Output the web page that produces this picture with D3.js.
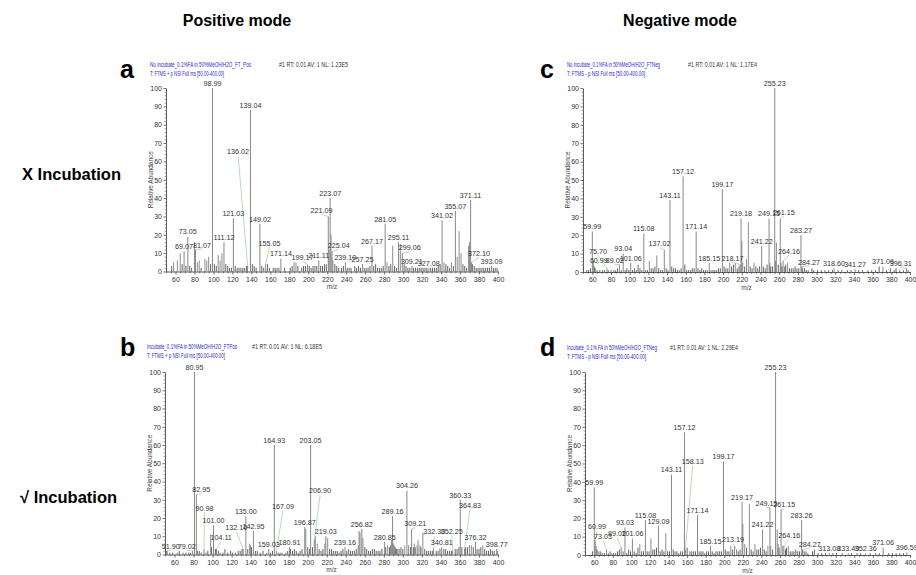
<!DOCTYPE html>
<html><head><meta charset="utf-8">
<script src="https://cdn.jsdelivr.net/npm/d3@7"></script>
<style>body{margin:0;background:#fff}</style>
</head><body>
<svg id="c" width="916" height="575"></svg>
<script>
// ---------------- DATA ----------------
const mzTicks = [60,80,100,120,140,160,180,200,220,240,260,280,300,320,340,360,380,400];
const abTicks = [0,10,20,30,40,50,60,70,80,90,100];
const columnTitles = ["Positive mode", "Negative mode"];
const rowTitles = ["X Incubation", "\u221A Incubation"];
const panelLetters = ["a", "b", "c", "d"];

const headerA = ["No incubate_0.1%FA in 50%MeOH/H2O_FT_Pos", "T: FTMS + p NSI Full ms [50.00-400.00]", "#1 RT: 0.01 AV: 1 NL: 1.23E5"];
const headerB = ["Incubate_0.1%FA in 50%MeOH/H2O_FTPos", "T: FTMS + p NSI Full ms [50.00-400.00]", "#1 RT: 0.01 AV: 1 NL: 6.18E5"];
const headerC = ["No incubate_0.1%FA in 50%MeOH/H2O_FTNeg", "T: FTMS - p NSI Full ms [50.00-400.00]", "#1 RT: 0.01 AV: 1 NL: 1.17E4"];
const headerD = ["Incubate_0.1% FA in 50%MeOH/H2O_FTNeg", "T: FTMS - p NSI Full ms [50.00-400.00]", "#1 RT: 0.01 AV: 1 NL: 2.29E4"];

// labelled peaks: [m/z, relative abundance, label m/z (if displaced), label level (if displaced)]
const labelsA = [
 [69.07,11,null,null],[73.05,19,null,null],[81.07,12,88,13],[98.99,100,null,null],
 [111.12,16,null,null],[121.03,29,null,null],[136.02,3,126,64],[139.04,88,null,null],
 [149.02,26,null,null],[155.05,4,159,14],[171.14,7,null,null],[199.17,4,194,6.5],
 [211.11,6,null,null],[221.09,30,214,32],[223.07,40,null,null],[225.04,11,232,13],
 [239.10,5,null,null],[257.25,4,null,null],[267.17,14,null,null],[281.05,26,null,null],
 [295.11,16,null,null],[299.06,10,307,11.5],[309.21,3,null,null],[327.08,2,null,null],
 [341.02,28,null,null],[355.07,33,null,null],[371.11,39,null,null],[372.10,5,380,8.5],
 [393.09,3,null,null]
];
const peaksA = [
 [56,3],[58,5],[62,6],[65,10],[67,4],[71,3],[75,3],[77,2],[80,16],[83,5],[85,6],[87,2],[91,7],[93,6],[95,8],[97,4],
 [101,4],[103,3],[105,9],[107,6],[109,10],[113,4],[115,3],[117,2],[119,2],[123,3],[125,2],[127,2],[129,2],[131,2],
 [133,2],[135,3],[141,4],[143,3],[145,2],[151,3],[153,2],[157,4],[159,2],[163,2],[165,2],[167,2],[169,2],[175,2],
 [181,2],[183,3],[185,5],[187,5],[189,3],[193,2],[195,3],[197,3],[201,3],[203,2],[205,3],[207,3],[209,3],[213,3],
 [215,3],[217,4],[219,4],[222,12],[224,20],[226,6],[228,4],[230,3],[232,2],[235,2],[237,3],[241,2],[243,2],[245,2],
 [249,3],[251,2],[253,3],[255,2],[259,2],[261,2],[263,2],[265,3],[269,3],[271,4],[273,2],[275,2],[277,2],[279,3],
 [283,5],[285,3],[287,4],[289,14],[291,3],[293,2],[297,15],[301,4],[303,3],[305,2],[307,2],[311,2],[313,2],[315,2],
 [317,2],[319,2],[321,2],[323,2],[325,2],[329,2],[331,2],[333,2],[335,2],[337,3],[339,4],[343,5],[345,4],[347,3],
 [349,2],[351,5],[353,3],[357,8],[359,22],[361,10],[363,4],[365,3],[367,2],[369,14],[370,16],[373,4],[375,3],
 [377,2],[379,2],[381,2],[383,2],[385,2],[387,2],[389,2],[391,2],[395,2],[397,2],[399,2]
];

const labelsB = [
 [51.90,2,56,3],[79.02,2,73,3],[80.95,100,null,null],[82.95,33,88,34],[90.98,3,91.5,24],
 [101.00,16,null,null],[104.11,3,109,8],[132.10,3,125,13.5],[135.00,21,null,null],[142.95,13,null,null],
 [159.03,3,null,null],[164.93,60,null,null],[167.09,2,174,25],[180.91,4,null,null],[196.87,15,null,null],
 [203.05,60,null,null],[206.90,8,213,33.5],[219.03,10,null,null],[239.16,4,null,null],[256.82,14,null,null],
 [280.85,7,null,null],[289.16,21,null,null],[304.26,35,null,null],[309.21,14,313,15.5],[332.30,3,333,11],
 [340.81,4,null,null],[352.25,2,351.5,11],[360.33,30,null,null],[364.83,3,370.5,25.5],[376.32,7,null,null],
 [398.77,3,null,null]
];
const peaksB = [
 [52,2],[55,1],[58,1],[63,1],[65,2],[69,1],[72,1],[75,1],[77,1],[84,2],[86,2],[88,1],[93,1],[95,2],[98,11],[99,4],
 [103,3],[106,2],[108,1],[111,1],[113,3],[116,1],[119,2],[121,1],[124,1],[127,2],[129,2],[131,3],[137,3],[139,6],
 [140,5],[141,4],[145,2],[147,2],[150,1],[153,2],[157,1],[161,1],[163,2],[169,1],[171,1],[173,1],[177,1],[179,2],
 [182,3],[184,2],[186,3],[188,2],[190,1],[192,2],[194,3],[198,14],[200,4],[202,3],[205,4],[208,10],[210,6],[212,3],
 [214,2],[216,3],[218,6],[221,9],[223,3],[225,3],[227,2],[229,2],[231,2],[233,1],[235,2],[237,3],[241,2],[243,3],
 [245,2],[247,2],[249,2],[251,3],[253,5],[254,13],[255,12],[258,9],[260,4],[262,3],[264,2],[266,2],[268,3],[270,3],
 [272,2],[274,2],[276,2],[278,3],[282,4],[284,5],[286,4],[287,5],[288,8],[290,6],[291,5],[292,4],[293,3],[294,3],
 [296,3],[298,4],[300,3],[302,5],[306,5],[308,4],[311,4],[312,6],[313,4],[315,5],[316,8],[318,5],[319,4],[321,12],
 [323,3],[325,2],[327,2],[329,2],[331,2],[335,2],[337,2],[339,3],[343,3],[345,3],[347,2],[349,2],[351,2],[355,3],
 [357,3],[359,4],[362,4],[366,4],[368,4],[370,5],[372,5],[374,4],[378,3],[380,3],[382,4],[384,5],[386,3],[388,2],
 [390,2],[392,3],[394,2],[396,2],[399,2]
];

const labelsC = [
 [59.99,22,null,null],[60.99,6,67,5],[75.70,2,66,10],[89.02,4,84,5],[93.04,10,null,null],
 [101.06,5,null,null],[115.08,21,null,null],[137.02,12,132,14],[143.11,39,null,null],[157.12,52,null,null],
 [171.14,22,null,null],[185.15,5,null,null],[199.17,45,null,null],[218.17,4,210,6],[219.18,29,null,null],
 [241.22,14,null,null],[249.15,29,null,null],[255.23,100,null,null],[261.15,29,265,31],[264.16,6,270.5,10],
 [283.27,20,null,null],[284.27,3,292,4],[318.60,2,null,null],[341.27,1.5,null,null],[371.06,3,null,null],
 [396.31,2,390,3]
];
const peaksC = [
 [54,1],[56,1],[58,2],[62,3],[63,2],[65,1],[68,1],[71,1],[73,1],[77,1],[80,1],[83,1],[85,1],[87,2],[91,1],[95,1],
 [97,2],[99,1],[103,1],[105,2],[107,1],[109,4],[111,2],[113,1],[117,1],[119,1],[121,6],[123,2],[125,2],[127,3],
 [129,9],[131,2],[133,1],[135,1],[139,2],[141,1],[145,3],[147,2],[149,2],[151,1],[153,1],[155,2],[159,4],[161,1],
 [163,1],[165,1],[167,2],[169,2],[173,2],[175,1],[177,2],[179,1],[181,1],[183,1],[187,1],[189,1],[191,1],[193,1],
 [195,2],[197,2],[201,3],[203,2],[205,2],[207,5],[209,3],[211,4],[213,5],[215,2],[217,3],[220,17],[221,5],[223,3],
 [225,7],[227,27],[229,3],[231,2],[233,5],[235,3],[237,2],[239,3],[243,3],[245,2],[247,4],[250,5],[251,3],[253,3],
 [256,6],[257,16],[259,4],[262,5],[263,3],[266,3],[267,4],[269,5],[271,2],[273,2],[275,2],[277,3],[279,2],[281,2],
 [285,2],[287,2],[289,1],[291,1],[295,2],[297,1],[301,1],[305,1],[309,1],[313,1],[317,1],[323,1],[327,1],[333,1],
 [337,1],[345,1],[349,1],[355,1],[359,1],[363,1],[367,3],[375,1],[379,2],[383,1],[385,2],[389,1],[393,1],[398,1]
];

const labelsD = [
 [59.99,37,null,null],[60.99,8,63,14],[73.03,3,69.5,9],[89.02,4,84.5,10.5],[93.03,15,null,null],
 [101.06,9,null,null],[115.08,19,null,null],[129.09,16,null,null],[143.11,44,null,null],[157.12,67,null,null],
 [158.13,3,166,50],[171.14,22,null,null],[185.15,5,null,null],[199.17,51,null,null],[213.19,3,209.5,7],
 [219.17,29,null,null],[241.22,14,null,null],[249.15,26,245.5,27],[255.23,100,null,null],[261.15,25,264.5,26],
 [264.16,5,270,9.5],[283.26,19,null,null],[284.27,3,292,4.5],[313.08,1,null,null],[333.49,1,null,null],
 [352.36,1,null,null],[371.06,4,null,null],[396.59,1.5,null,null]
];
const peaksD = [
 [58,2],[62,5],[63,3],[65,2],[67,2],[69,1],[71,1],[75,1],[77,2],[79,1],[81,1],[83,1],[85,2],[87,3],[91,2],[95,1],
 [97,3],[99,2],[103,2],[105,1],[107,4],[109,6],[111,2],[113,2],[117,2],[119,2],[121,9],[123,3],[125,3],[127,4],
 [131,2],[133,3],[135,2],[137,12],[139,2],[141,2],[145,3],[147,2],[149,2],[151,1],[153,2],[155,2],[160,4],[163,2],
 [165,2],[167,2],[169,2],[173,2],[175,2],[177,2],[179,1],[181,2],[183,2],[187,2],[189,1],[191,2],[193,2],[195,2],
 [197,2],[201,3],[203,2],[205,2],[207,5],[209,3],[211,5],[215,2],[217,3],[220,17],[222,6],[224,4],[227,28],[229,3],
 [231,2],[233,6],[235,3],[237,3],[239,4],[243,3],[245,2],[247,5],[250,5],[252,3],[257,14],[258,6],[259,4],[263,5],
 [266,3],[267,4],[269,5],[271,2],[273,2],[275,2],[277,3],[279,2],[281,2],[286,2],[288,2],[290,1],[295,2],[297,3],
 [301,1],[305,1],[309,1],[317,1],[321,1],[327,1],[337,1],[343,1],[347,1],[357,1],[363,1],[367,1],[377,1],[381,1],
 [385,1],[389,1],[393,1]
];

// ---------------- LAYOUT ----------------
const FONT = "'Liberation Sans Narrow','Arial Narrow','Liberation Sans',Arial,sans-serif";
const BOLD = "'Liberation Sans',Arial,Helvetica,sans-serif";
const svg = d3.select('#c');

const panels = [
 {letter:panelLetters[0], hdr:headerA, peaks:peaksA, labels:labelsA, x0:166, x1:498, yb:271.5, yt:88,  hx:150, hy:67,  ix:279, w1:101, w2:74, wi:69, lx:120, ly:78},
 {letter:panelLetters[1], hdr:headerB, peaks:peaksB, labels:labelsB, x0:165, x1:498, yb:554.5, yt:372, hx:147, hy:349, ix:252, w1:90,  w2:78, wi:70, lx:120, ly:356},
 {letter:panelLetters[2], hdr:headerC, peaks:peaksC, labels:labelsC, x0:583, x1:910, yb:272,   yt:88,  hx:567, hy:67,  ix:688, w1:93,  w2:78, wi:69, lx:540, ly:78},
 {letter:panelLetters[3], hdr:headerD, peaks:peaksD, labels:labelsD, x0:585, x1:910, yb:555,   yt:372, hx:567, hy:350, ix:670, w1:90,  w2:79, wi:68, lx:540, ly:356}
];

const minorMz = d3.range(50, 401, 5).filter(v => v % 20 !== 0);
const minorAb = d3.range(0, 101, 2).filter(v => v % 10 !== 0);

function drawPanel(p){
  const x = d3.scaleLinear().domain([50,400]).range([p.x0,p.x1]);
  const y = d3.scaleLinear().domain([0,100]).range([p.yb,p.yt]);
  const g = svg.append('g');

  g.append('g').selectAll('line').data(p.peaks).join('line')
    .attr('x1',d=>x(d[0])).attr('x2',d=>x(d[0]))
    .attr('y1',y(0)).attr('y2',d=>y(d[1]))
    .attr('stroke',d=>d[1] <= 4 ? '#3c3c3c' : '#707070').attr('stroke-width',0.8);
  g.append('g').selectAll('line').data(p.labels).join('line')
    .attr('x1',d=>x(d[0])).attr('x2',d=>x(d[0]))
    .attr('y1',y(0)).attr('y2',d=>y(d[1]))
    .attr('stroke','#7a7a7a').attr('stroke-width',0.9);
  const disp = p.labels.filter(d=>d[2]!==null);
  g.append('g').selectAll('line').data(disp).join('line')
    .attr('x1',d=>x(d[2])).attr('y1',d=>y(d[3])+1.5)
    .attr('x2',d=>x(d[0])).attr('y2',d=>y(d[1]))
    .attr('stroke','#8fd18f').attr('stroke-width',0.7);
  g.append('g').selectAll('text').data(p.labels).join('text')
    .attr('x',d=> d[2]===null ? x(d[0]) : x(d[2]))
    .attr('y',d=> d[2]===null ? y(d[1])-2.2 : y(d[3]))
    .attr('text-anchor','middle')
    .attr('font-family',FONT).attr('font-size',7.2).attr('fill','#333')
    .text(d=>d[0].toFixed(2));

  const ax = g.append('g').attr('transform',`translate(0,${y(0)})`)
    .call(d3.axisBottom(x).tickValues(mzTicks).tickSize(3).tickSizeOuter(0).tickPadding(2.5).tickFormat(d3.format('d')));
  ax.select('.domain').attr('stroke','#333').attr('stroke-width',0.8);
  ax.selectAll('.tick line').attr('stroke','#333').attr('stroke-width',0.7);
  ax.selectAll('text').attr('font-family',FONT).attr('font-size',7).attr('fill','#333');
  const axm = g.append('g').attr('transform',`translate(0,${y(0)})`)
    .call(d3.axisBottom(x).tickValues(minorMz).tickSize(1.8).tickSizeOuter(0).tickFormat(''));
  axm.select('.domain').remove();
  axm.selectAll('.tick line').attr('stroke','#333').attr('stroke-width',0.6);

  const ay = g.append('g').attr('transform',`translate(${x(50)},0)`)
    .call(d3.axisLeft(y).tickValues(abTicks).tickSize(2.5).tickSizeOuter(0).tickPadding(1.5));
  ay.select('.domain').attr('stroke','#333').attr('stroke-width',0.8);
  ay.selectAll('.tick line').attr('stroke','#333').attr('stroke-width',0.7);
  ay.selectAll('text').attr('font-family',FONT).attr('font-size',7).attr('fill','#333');
  const aym = g.append('g').attr('transform',`translate(${x(50)},0)`)
    .call(d3.axisLeft(y).tickValues(minorAb).tickSize(1.4).tickSizeOuter(0).tickFormat(''));
  aym.select('.domain').remove();
  aym.selectAll('.tick line').attr('stroke','#333').attr('stroke-width',0.5);

  g.append('text').attr('transform',`translate(${x(50)-13},${(y(0)+y(100))/2}) rotate(-90)`)
    .attr('text-anchor','middle').attr('font-family',FONT).attr('font-size',7).attr('fill','#444')
    .attr('textLength',57).attr('lengthAdjust','spacingAndGlyphs')
    .text('Relative Abundance');
  g.append('text').attr('x',(x(50)+x(400))/2).attr('y',y(0)+17.5)
    .attr('text-anchor','middle').attr('font-family',FONT).attr('font-size',6.5).attr('fill','#444')
    .text('m/z');

  const blue = '#2b2bc4';
  g.append('text').attr('x',p.hx).attr('y',p.hy).attr('font-family',FONT).attr('font-size',7)
    .attr('fill',blue).attr('textLength',p.w1).attr('lengthAdjust','spacingAndGlyphs').text(p.hdr[0]);
  g.append('text').attr('x',p.hx).attr('y',p.hy+8.5).attr('font-family',FONT).attr('font-size',7)
    .attr('fill',blue).attr('textLength',p.w2).attr('lengthAdjust','spacingAndGlyphs').text(p.hdr[1]);
  g.append('text').attr('x',p.ix).attr('y',p.hy).attr('font-family',FONT).attr('font-size',7)
    .attr('fill','#333').attr('textLength',p.wi).attr('lengthAdjust','spacingAndGlyphs').text(p.hdr[2]);

  svg.append('text').attr('x',p.lx).attr('y',p.ly).attr('font-family',BOLD).attr('font-weight','bold')
    .attr('font-size',25).attr('fill','#000').text(p.letter);
}
panels.forEach(drawPanel);

const colX = [237, 680];
columnTitles.forEach((t,i)=>svg.append('text').attr('x',colX[i]).attr('y',26).attr('text-anchor','middle')
  .attr('font-family',BOLD).attr('font-weight','bold').attr('font-size',16).text(t));
const rowY = [180, 503];
rowTitles.forEach((t,i)=>svg.append('text').attr('x',i===0?22:20).attr('y',rowY[i])
  .attr('font-family',BOLD).attr('font-weight','bold').attr('font-size',16.5).text(t));
</script>
</body></html>
